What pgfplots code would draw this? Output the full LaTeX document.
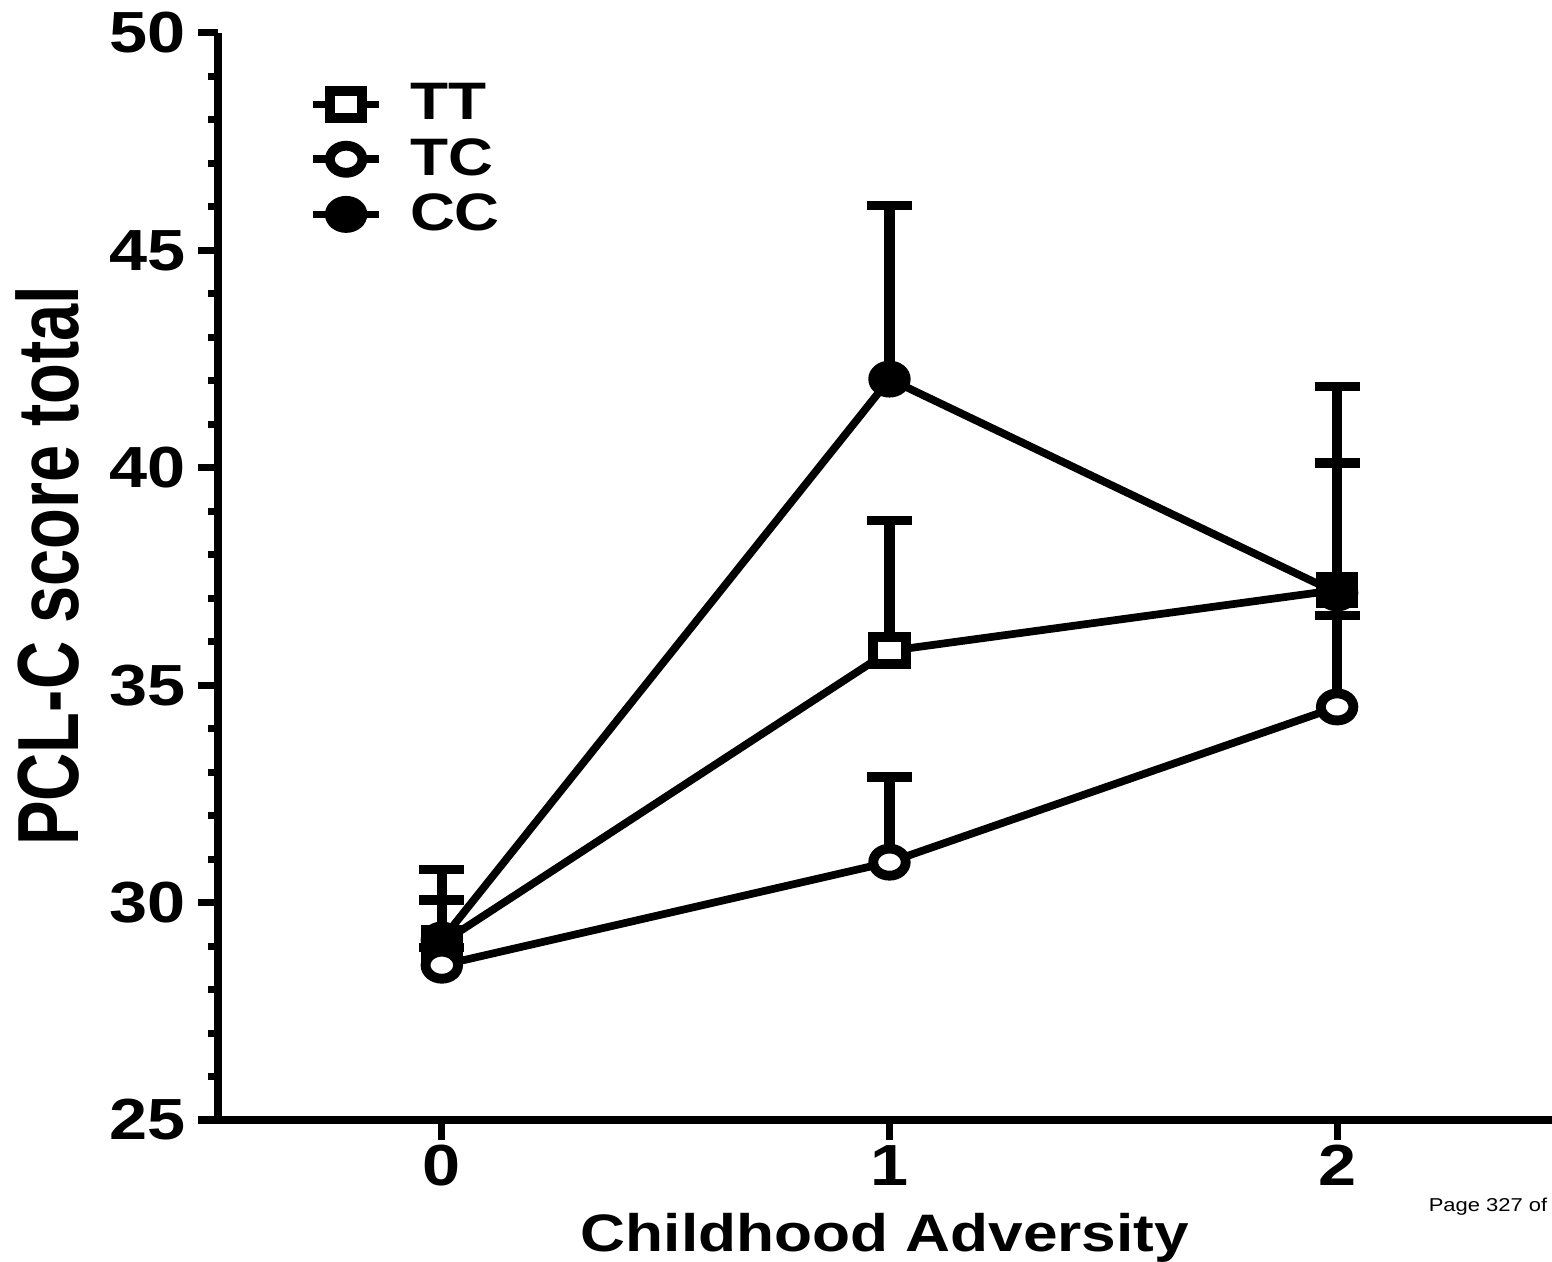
\documentclass[border=0pt]{standalone}
\usepackage{fontspec}
\setmainfont{Liberation Sans}[FakeStretch=1.18]
\newfontfamily\plainsans{Liberation Sans}
\usepackage{graphicx}
\usepackage{pgfplots}
\usepackage{pgfplotstable}
\pgfplotsset{compat=1.18}
\pgfplotstableread{
x tt tte tc tce cc cce
0 29.07 0.99 28.56 0.40 29.14 1.63
1 35.79 2.99 30.93 1.96 42.04 4.00
2 37.19 2.92 34.50 2.11 37.12 4.74
}\data
\begin{document}
\begin{tikzpicture}
\begin{axis}[
  at={(0,0)}, anchor=south west,
  scale only axis, width=13.34cm, height=10.87cm,
  xmin=-0.5, xmax=2.48, ymin=25, ymax=50,
  axis x line*=bottom, axis y line*=left,
  axis line style={line width=2pt},
  xtick={0,1,2}, ytick={25,30,...,50}, minor y tick num=4,
  tick align=outside, major tick length=0.2cm, minor tick length=0.1cm,
  every tick/.style={black, line width=2pt},
  tick label style={font=\bfseries\fontsize{16.5}{18}\selectfont},
  xticklabel style={yshift=0.07cm},
  /pgf/number format/assume math mode=true,
  xlabel={Childhood Adversity},
  xlabel style={font=\bfseries\fontsize{15}{18}\selectfont, at={(axis description cs:0.5,-0.108)}, anchor=center},
  ylabel={\plainsans\bfseries\fontsize{19}{22}\selectfont\scalebox{1}[1.3]{PCL-C score total}},
  ylabel style={at={(axis description cs:-0.128,0.51)}, anchor=center},
  legend style={draw=none, fill=none, at={(axis description cs:0.06,0.967)}, anchor=north west,
    font=\bfseries\fontsize{15}{18}\selectfont, row sep=-0.01cm, column sep=0.2cm},
  legend cell align=left,
  legend image code/.code={\draw[mark repeat=2,mark phase=2] plot coordinates {(0cm,0cm)(0.33cm,0cm)(0.66cm,0cm)};},
  clip=false,
]
% error bars
\foreach \s in {tt,cc,tc}{
\addplot[draw=none, mark=none, forget plot,
  error bars/.cd, y dir=plus, y explicit, error mark=|,
  error bar style={draw=black, line width=3pt},
  error mark options={draw=black, line width=2.6pt, mark size=6.4pt}]
  table[x=x, y=\s, y error=\s e] {\data};
}
% lines
\addplot[black, line width=2.2pt, mark=none, forget plot] table[x=x,y=tt]{\data};
\addplot[black, line width=2.2pt, mark=none, forget plot] table[x=x,y=cc]{\data};
\addplot[black, line width=2.2pt, mark=none, forget plot] table[x=x,y=tc]{\data};
% markers
\addplot[only marks, forget plot, mark=square*, mark size=3.85pt, mark options={draw=black, fill=white, line width=2.8pt, xscale=1.2}] table[x=x,y=tt]{\data};
\addplot[only marks, forget plot, mark=*, mark size=3.85pt, mark options={draw=black, fill=black, line width=2.8pt, xscale=1.2}] table[x=x,y=cc]{\data};
\addplot[only marks, forget plot, mark=*, mark size=3.85pt, mark options={draw=black, fill=white, line width=2.8pt, xscale=1.2}] table[x=x,y=tc]{\data};
% legend
\addlegendimage{black, line width=2.2pt, mark=square*, mark size=3.85pt, mark options={draw=black, fill=white, line width=2.8pt, xscale=1.2}}
\addlegendentry{TT}
\addlegendimage{black, line width=2.2pt, mark=*, mark size=3.85pt, mark options={draw=black, fill=white, line width=2.8pt, xscale=1.2}}
\addlegendentry{TC}
\addlegendimage{black, line width=2.2pt, mark=*, mark size=3.85pt, mark options={draw=black, fill=black, line width=2.8pt, xscale=1.2}}
\addlegendentry{CC}
\end{axis}
\node[anchor=east, font=\fontsize{5.3}{6}\selectfont, inner sep=0pt] at (13.30cm,-0.87cm) {Page 327 of};
\pgfresetboundingbox
\useasboundingbox (-2.18cm,-1.42cm) rectangle (13.34cm,11.20cm);
\end{tikzpicture}
\end{document}
